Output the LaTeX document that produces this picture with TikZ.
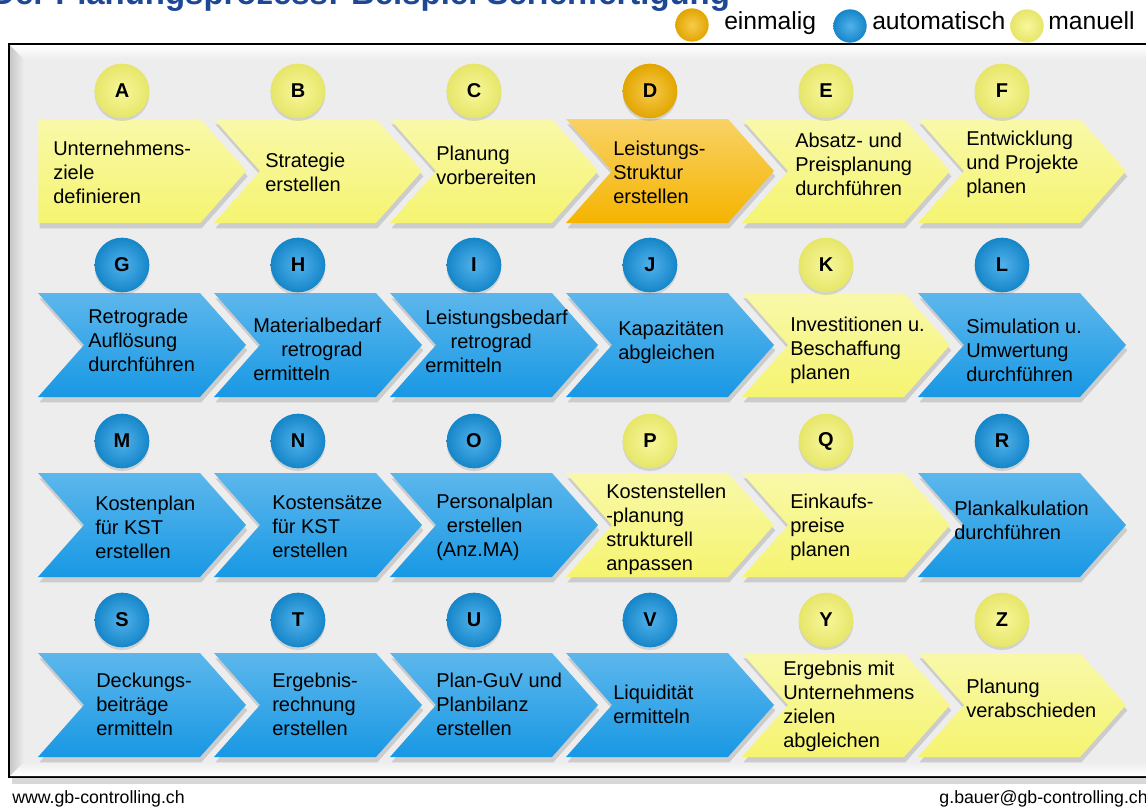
\documentclass[tikz,border=0pt]{standalone}
\usepackage{fontspec}
\setmainfont{Liberation Sans}
\usepackage{xcolor}
\usetikzlibrary{calc}
\usetikzlibrary{positioning}
\usetikzlibrary{shapes.symbols,shadows}

\definecolor{yellowStep}{RGB}{245,244,112}
\definecolor{blueStep}{RGB}{24,152,228}
\definecolor{orangeStep}{RGB}{245,180,0}
\definecolor{titleBlue}{RGB}{30,72,150}
\definecolor{panelGrey}{RGB}{237,237,237}

\begin{document}
\begin{tikzpicture}[x=0.75pt,y=-0.75pt]
		\tikzstyle{chevron} = [signal, signal to=east, signal from=west, signal pointer angle=97, minimum width=156pt, minimum height=78pt, inner sep=0pt, drop shadow={shadow xshift=1pt, shadow yshift=-4pt, opacity=0.3}]
		\tikzstyle{firststep} = [chevron, signal from=nowhere]
		\tikzstyle{manual} = [top color=yellowStep!60!white, bottom color=yellowStep]
		\tikzstyle{auto} = [top color=blueStep!70!white, bottom color=blueStep]
		\tikzstyle{once} = [top color=orangeStep!60!white, bottom color=orangeStep]
		\tikzstyle{ball} = [circle, minimum size=41pt, inner sep=0pt, font=\fontsize{15pt}{15pt}\selectfont\bfseries, drop shadow={shadow xshift=0pt, shadow yshift=-2pt, opacity=0.25}]
		\tikzstyle{manualball} = [ball, inner color=yellowStep!70!white, outer color=yellowStep!94!black]
		\tikzstyle{autoball} = [ball, inner color=blueStep!75!white, outer color=blueStep!88!black]
		\tikzstyle{onceball} = [ball, inner color=orangeStep!70!white, outer color=orangeStep!92!black]
		\tikzstyle{legendball} = [circle, minimum size=25pt, inner sep=0pt]
		\tikzstyle{steptext} = [anchor=west, align=left, inner sep=0pt, font=\fontsize{15pt}{18pt}\selectfont]
		\tikzstyle{legendtext} = [anchor=base west, inner sep=0pt, font=\fontsize{18.5pt}{20pt}\selectfont]
		\tikzstyle{footer} = [inner sep=0pt, font=\fontsize{13.3pt}{15pt}\selectfont]

		\useasboundingbox (0,0) rectangle (1146,810);
		\clip (0,0) rectangle (1146,810);
		\fill[white] (0,0) rectangle (1146,810);

		% frame with bevel
		\draw[fill=panelGrey, line width=1.1pt, drop shadow={shadow xshift=2pt, shadow yshift=-5pt, opacity=0.3}] (9,44) rectangle (1170,777);
		\shade[left color=black!22, right color=panelGrey] (10,45) -- (24,59) -- (24,762) -- (10,776) -- cycle;
		\shade[top color=white, bottom color=panelGrey] (10,45) -- (1170,45) -- (1170,59) -- (24,59) -- cycle;
		\shade[top color=panelGrey, bottom color=white] (24,762) -- (1170,762) -- (1170,776) -- (10,776) -- cycle;

		% title and legend
		\node[anchor=base west, inner sep=0pt, text=titleBlue, font=\fontsize{24.7pt}{26pt}\selectfont\bfseries] (Title) at (-9,4) {Der Planungsprozess: Beispiel Serienfertigung};
		\node[legendball, inner color=orangeStep!70!white, outer color=orangeStep!92!black] (OnceBall) at (692,25) {};
		\node[legendtext] (Once) at (724,29) {einmalig};
		\node[legendball, inner color=blueStep!75!white, outer color=blueStep!88!black] (AutoBall) at (850,26) {};
		\node[legendtext] (Auto) at (872,29) {automatisch};
		\node[legendball, inner color=yellowStep!70!white, outer color=yellowStep!94!black] (ManualBall) at (1027,26) {};
		\node[legendtext] (Manual) at (1048,29) {manuell};

		% row 1
		\node[firststep, manual, anchor=west] (A) at (38,171) {};
		\node[chevron, manual] (B) at (318,171) {};
		\node[chevron, manual] (C) at (494,171) {};
		\node[chevron, once] (D) at (670,171) {};
		\node[chevron, manual] (E) at (846,171) {};
		\node[chevron, manual] (F) at (1022,171) {};
		\node[manualball] (BallA) at (122,91) {A};
		\node[manualball] (BallB) at (298,91) {B};
		\node[manualball] (BallC) at (474,91) {C};
		\node[onceball] (BallD) at (650,91) {D};
		\node[manualball] (BallE) at (826,91) {E};
		\node[manualball] (BallF) at (1002,91) {F};
		\node[steptext] (TextA) at ($(A.west)+(15,1)$) {Unternehmens-\\ziele\\definieren};
		\node[steptext] (TextB) at ($(B)+(-53,1)$) {Strategie\\erstellen};
		\node[steptext] (TextC) at ($(C)+(-58,-6)$) {Planung\\vorbereiten};
		\node[steptext] (TextD) at ($(D)+(-57,1)$) {Leistungs-\\Struktur\\erstellen};
		\node[steptext] (TextE) at ($(E)+(-51,-7)$) {Absatz- und\\Preisplanung\\durchführen};
		\node[steptext] (TextF) at ($(F)+(-56,-7)$) {Entwicklung\\und Projekte\\planen};

		% row 2
		\node[chevron, auto] (G) at (142,345) {};
		\node[chevron, auto] (H) at (318,345) {};
		\node[chevron, auto] (I) at (494,345) {};
		\node[chevron, auto] (J) at (670,345) {};
		\node[chevron, manual] (K) at (846,345) {};
		\node[chevron, auto] (L) at (1022,345) {};
		\node[autoball] (BallG) at (122,265) {G};
		\node[autoball] (BallH) at (298,265) {H};
		\node[autoball] (BallI) at (474,265) {I};
		\node[autoball] (BallJ) at (650,265) {J};
		\node[manualball] (BallK) at (826,265) {K};
		\node[autoball] (BallL) at (1002,265) {L};
		\node[steptext] (TextG) at ($(G)+(-54,-5)$) {Retrograde\\Auflösung\\durchführen};
		\node[steptext] (TextH) at ($(H)+(-65,4)$) {Materialbedarf\\\hspace{21pt}retrograd\\ermitteln};
		\node[steptext] (TextI) at ($(I)+(-69,-4)$) {Leistungsbedarf\\\hspace{19pt}retrograd\\ermitteln};
		\node[steptext] (TextJ) at ($(J)+(-52,-3)$) {Kapazitäten\\abgleichen};
		\node[steptext] (TextK) at ($(K)+(-56,5)$) {Investitionen u.\\Beschaffung\\planen};
		\node[steptext] (TextL) at ($(L)+(-56,5)$) {Simulation u.\\Umwertung\\durchführen};

		% row 3
		\node[chevron, auto] (M) at (142,525) {};
		\node[chevron, auto] (N) at (318,525) {};
		\node[chevron, auto] (O) at (494,525) {};
		\node[chevron, manual] (P) at (670,525) {};
		\node[chevron, manual] (Q) at (846,525) {};
		\node[chevron, auto] (R) at (1022,525) {};
		\node[autoball] (BallM) at (122,441) {M};
		\node[autoball] (BallN) at (298,441) {N};
		\node[autoball] (BallO) at (474,441) {O};
		\node[manualball] (BallP) at (650,441) {P};
		\node[manualball] (BallQ) at (826,441) {Q};
		\node[autoball] (BallR) at (1002,441) {R};
		\node[steptext] (TextM) at ($(M)+(-47,2)$) {Kostenplan\\für KST\\erstellen};
		\node[steptext] (TextN) at ($(N)+(-46,2)$) {Kostensätze\\für KST\\erstellen};
		\node[steptext] (TextO) at ($(O)+(-58,2)$) {Personalplan\\\hspace{8pt}erstellen\\(Anz.MA)};
		\node[steptext] (TextP) at ($(P)+(-64,4)$) {Kostenstellen\\-planung\\strukturell\\anpassen};
		\node[steptext] (TextQ) at ($(Q)+(-56,2)$) {Einkaufs-\\preise\\planen};
		\node[steptext] (TextR) at ($(R)+(-68,-5)$) {Plankalkulation\\durchführen};

		% row 4
		\node[chevron, auto] (S) at (142,705) {};
		\node[chevron, auto] (T) at (318,705) {};
		\node[chevron, auto] (U) at (494,705) {};
		\node[chevron, auto] (V) at (670,705) {};
		\node[chevron, manual] (Y) at (846,705) {};
		\node[chevron, manual] (Z) at (1022,705) {};
		\node[autoball] (BallS) at (122,620) {S};
		\node[autoball] (BallT) at (298,620) {T};
		\node[autoball] (BallU) at (474,620) {U};
		\node[autoball] (BallV) at (650,620) {V};
		\node[manualball] (BallY) at (826,620) {Y};
		\node[manualball] (BallZ) at (1002,620) {Z};
		\node[steptext] (TextS) at ($(S)+(-46,-1)$) {Deckungs-\\beiträge\\ermitteln};
		\node[steptext] (TextT) at ($(T)+(-46,-1)$) {Ergebnis-\\rechnung\\erstellen};
		\node[steptext] (TextU) at ($(U)+(-58,-1)$) {Plan-GuV und\\Planbilanz\\erstellen};
		\node[steptext] (TextV) at ($(V)+(-57,-1)$) {Liquidität\\ermitteln};
		\node[steptext] (TextY) at ($(Y)+(-63,1)$) {Ergebnis mit\\Unternehmens\\zielen\\abgleichen};
		\node[steptext] (TextZ) at ($(Z)+(-56,-7)$) {Planung\\verabschieden};

		% footer
		\node[footer, anchor=base west] (Web) at (12,803) {www.gb-controlling.ch};
		\node[footer, anchor=base east] (Mail) at (1148,803) {g.bauer@gb-controlling.ch};
	\end{tikzpicture}
\end{document}
